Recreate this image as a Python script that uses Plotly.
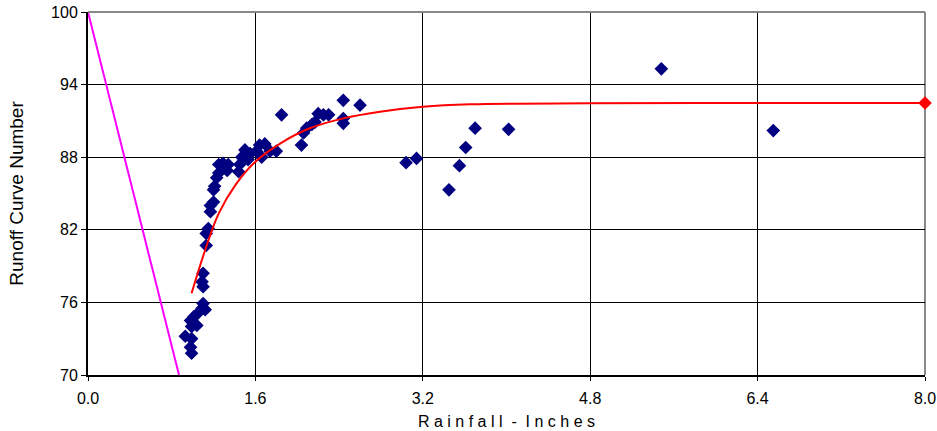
import plotly.graph_objects as go

# Observed rainfall (inches) vs runoff curve number
rain_obs = [0.99, 0.98, 0.93, 0.99, 0.99, 1.04, 0.98, 1.01, 1.05, 1.10, 1.09, 1.12,
            1.10, 1.09, 1.10, 1.13, 1.13, 1.15, 1.17, 1.17, 1.20, 1.20, 1.21, 1.23,
            1.25, 1.25, 1.29, 1.34, 1.33, 1.44, 1.45, 1.47, 1.50, 1.55, 1.53, 1.61,
            1.64, 1.69, 1.66, 1.74, 1.80, 1.85, 2.04, 2.06, 2.09, 2.14, 2.17, 2.20,
            2.25, 2.30, 2.44, 2.44, 2.44, 2.60,
            3.04, 3.14, 3.45, 3.55, 3.61, 3.70, 4.02, 5.48, 6.55]
cn_obs = [71.8, 72.3, 73.2, 73.0, 74.0, 74.1, 74.5, 74.8, 75.1, 75.9, 75.5, 75.4,
          77.3, 77.7, 78.4, 80.7, 81.7, 82.1, 83.5, 84.0, 84.3, 85.3, 85.6, 86.3,
          86.7, 87.4, 87.5, 87.4, 86.9, 86.8, 87.4, 88.0, 88.6, 88.3, 87.8, 88.5,
          89.0, 89.1, 88.0, 88.5, 88.5, 91.5, 89.0, 90.0, 90.4, 90.7, 90.9, 91.6,
          91.5, 91.5, 92.7, 91.2, 90.8, 92.3,
          87.55, 87.9, 85.3, 87.3, 88.8, 90.4, 90.3, 95.3, 90.2]

# Fitted curve
rain_fit = [0.99, 1.12, 1.25, 1.42, 1.60, 1.84, 2.12, 2.44, 2.79, 3.2, 3.65, 4.8, 6.4, 8.0]
cn_fit = [76.75, 80.33, 83.36, 85.84, 87.63, 89.15, 90.39, 91.21, 91.76, 92.17,
          92.37, 92.45, 92.48, 92.48]

# Limit line
rain_lim = [0.0, 0.87]
cn_lim = [100, 70]

# Asymptote marker
rain_end = [8.0]
cn_end = [92.48]

x_ticks = [0.0, 1.6, 3.2, 4.8, 6.4, 8.0]
y_ticks = [70, 76, 82, 88, 94, 100]

fig = go.Figure()
fig.add_trace(go.Scatter(x=rain_lim, y=cn_lim, mode="lines",
                         line=dict(color="#FF00FF", width=2), showlegend=False))
fig.add_trace(go.Scatter(x=rain_obs, y=cn_obs, mode="markers",
                         marker=dict(symbol="diamond", size=10.5, color="#000080"),
                         showlegend=False, cliponaxis=False))
fig.add_trace(go.Scatter(x=rain_fit, y=cn_fit, mode="lines",
                         line=dict(color="#FF0000", width=2, shape="spline"),
                         showlegend=False))
fig.add_trace(go.Scatter(x=rain_end, y=cn_end, mode="markers",
                         marker=dict(symbol="diamond", size=10.5, color="#FF0000"),
                         showlegend=False, cliponaxis=False))

font_family = "Liberation Sans, Arial, sans-serif"
fig.update_layout(
    width=937, height=431,
    margin=dict(l=88, r=12, t=12, b=56, autoexpand=False),
    paper_bgcolor="white", plot_bgcolor="white",
    font=dict(family=font_family, size=16, color="#000000"),
    xaxis=dict(range=[0, 8.0], tickvals=x_ticks, ticktext=[f"{v:.1f}" for v in x_ticks],
               showgrid=True, gridcolor="#000000", gridwidth=1,
               showline=True, linecolor="#000000", linewidth=2,
               ticks="outside", ticklen=4, tickcolor="#000000",
               ticklabelstandoff=4,
               zeroline=False, automargin=False,
               title=dict(text="R a i n f a l l  -  I n c h e s", font=dict(size=16), standoff=10)),
    yaxis=dict(range=[70, 100], tickvals=y_ticks, ticktext=[str(v) for v in y_ticks],
               showgrid=True, gridcolor="#000000", gridwidth=1,
               showline=True, linecolor="#000000", linewidth=2,
               ticks="outside", ticklen=5, tickcolor="#000000",
               zeroline=False, automargin=False,
               title=dict(text="Runoff Curve Number", font=dict(size=19), standoff=22)),
    shapes=[
        dict(type="line", xref="paper", yref="paper", x0=0, x1=1, y0=1, y1=1,
             line=dict(color="#888888", width=2), layer="above"),
        dict(type="line", xref="paper", yref="paper", x0=1, x1=1, y0=0, y1=1,
             line=dict(color="#888888", width=2), layer="below"),
    ],
)

fig.write_html("out.html", config={"displayModeBar": False})

with open("out.html", "r", encoding="utf-8") as f:
    html = f.read()
html = html.replace("<body>", '<body style="margin:0;padding:0;overflow:hidden;">', 1)
with open("out.html", "w", encoding="utf-8") as f:
    f.write(html)
